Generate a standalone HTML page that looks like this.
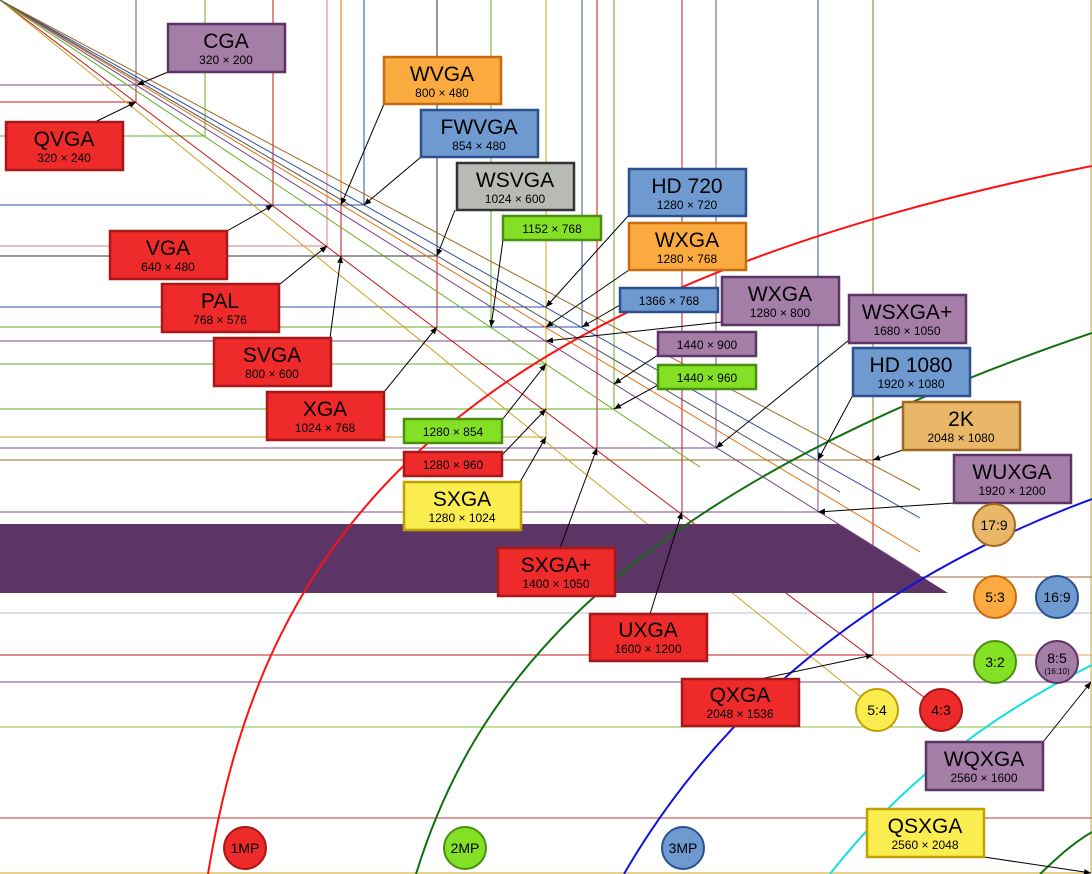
<!DOCTYPE html>
<html><head><meta charset="utf-8"><style>
body{margin:0;background:#fff}
svg{display:block}
text{font-family:"Liberation Sans",sans-serif;text-anchor:middle;fill:#000}
.t{font-size:21px}.s{font-size:12px}.m{font-size:12px}
</style></head><body>
<svg width="1092" height="874" viewBox="0 0 1092 874" xmlns="http://www.w3.org/2000/svg">
<defs><marker id="a" markerWidth="8" markerHeight="8" refX="7" refY="4" orient="auto" markerUnits="userSpaceOnUse"><path d="M0,1 L7,4 L0,7z" fill="#000"/></marker></defs>
<rect width="1092" height="874" fill="#fff"/>
<g fill="none" stroke-width="1">
<path d="M0,577H1092" stroke="#a06030"/>
<path d="M0,613H1092" stroke="#b0c0d8"/>
<path d="M873,655H1092" stroke="#f0a060"/>
<path d="M0,727H1092" stroke="#80c040"/>
<path d="M0,818H1092" stroke="#c03030"/>
<g stroke="#c01818">
<path d="M0,102H136V0M0,205H273V0M0,256H341V0M0,327H437V0M0,409H546V0M0,448H597V0M0,512H682V0M0,655H873V0"/>
<path d="M0,246H327V0" stroke="#d88080"/>
</g>
<g stroke="#7a4a8a"><path d="M0,85H136V0M0,341H546V0M0,448H716V0M0,512H818V0M0,682H1091V0"/></g>
<g stroke="#e07010"><path d="M0,205H341V0M0,327H546V0"/></g>
<g stroke="#2a50a0"><path d="M0,205H364V0M0,307H546V0M0,327H582V0M0,460H818V0"/></g>
<path d="M0,256H437V0" stroke="#333"/>
<g stroke="#60b020"><path d="M0,327H491V0M0,409H614V0M0,364H546V0M0,136H205V0"/></g>
<g stroke="#d0a020"><path d="M0,437H546V0M0,873H1091V0"/></g>
<path d="M0,460H873V0" stroke="#a06820"/>
<line x1="0" y1="0" x2="941" y2="710" stroke="#c01818"/>
<line x1="0" y1="0" x2="877" y2="710" stroke="#d0a020"/>
<line x1="0" y1="0" x2="920" y2="575" stroke="#7a4a8a"/>
<line x1="0" y1="0" x2="920" y2="552" stroke="#e07010"/>
<line x1="0" y1="0" x2="920" y2="518" stroke="#2a50a0"/>
<line x1="0" y1="0" x2="920" y2="490" stroke="#a06820"/>
<line x1="0" y1="0" x2="700" y2="467" stroke="#60b020"/>
<line x1="0" y1="0" x2="840" y2="492" stroke="#555"/>
</g>
<polygon points="0,524 838,524 948,593 0,593" fill="#5c3566"/>
<g fill="none" stroke-width="2">
<path d="M208,874 C260,560 420,300 1092,166" stroke="#ff1010"/>
<path d="M416,874 C470,700 600,500 1092,333" stroke="#107010"/>
<path d="M624,874 C690,760 820,600 1092,499" stroke="#1010e0"/>
<path d="M830,874 C880,810 960,730 1092,665" stroke="#10e0e0"/>
<path d="M1040,874 C1055,860 1070,845 1092,832" stroke="#107010"/>
</g>
<g stroke="#000" stroke-width="1" marker-end="url(#a)">
<line x1="168" y1="72" x2="137" y2="85"/>
<line x1="95" y1="122" x2="136" y2="102"/>
<line x1="227" y1="231" x2="273" y2="205"/>
<line x1="280" y1="284" x2="327" y2="246"/>
<line x1="330" y1="338" x2="341" y2="256"/>
<line x1="384" y1="392" x2="437" y2="327"/>
<line x1="384" y1="104" x2="341" y2="205"/>
<line x1="421" y1="157" x2="364" y2="205"/>
<line x1="455" y1="210" x2="437" y2="256"/>
<line x1="503" y1="240" x2="491" y2="327"/>
<line x1="629" y1="215" x2="546" y2="307"/>
<line x1="629" y1="270" x2="546" y2="327"/>
<line x1="620" y1="305" x2="582" y2="327"/>
<line x1="722" y1="322" x2="546" y2="341"/>
<line x1="658" y1="355" x2="614" y2="384"/>
<line x1="658" y1="385" x2="614" y2="409"/>
<line x1="502" y1="420" x2="546" y2="364"/>
<line x1="502" y1="455" x2="546" y2="409"/>
<line x1="520" y1="482" x2="546" y2="437"/>
<line x1="560" y1="548" x2="597" y2="448"/>
<line x1="849" y1="340" x2="716" y2="448"/>
<line x1="853" y1="395" x2="818" y2="460"/>
<line x1="903" y1="450" x2="873" y2="460"/>
<line x1="954" y1="503" x2="818" y2="512"/>
<line x1="650" y1="614" x2="682" y2="512"/>
<line x1="760" y1="679" x2="873" y2="655"/>
<line x1="1043" y1="742" x2="1091" y2="682"/>
<line x1="984" y1="857" x2="1091" y2="873"/>
</g>
<g stroke-width="2.5">
<g fill="#ee2a2a" stroke="#a81818">
<rect x="6" y="122" width="117" height="48"/><rect x="110" y="231" width="117" height="48"/>
<rect x="162" y="284" width="117" height="48"/><rect x="214" y="338" width="117" height="48"/>
<rect x="267" y="392" width="117" height="48"/><rect x="404" y="452" width="98" height="24"/>
<rect x="498" y="548" width="117" height="48"/><rect x="590" y="614" width="117" height="47"/>
<rect x="682" y="679" width="117" height="47"/>
</g>
<g fill="#a57ea8" stroke="#5c3566">
<rect x="168" y="24" width="117" height="48"/><rect x="722" y="277" width="117" height="48"/>
<rect x="849" y="295" width="117" height="48"/><rect x="658" y="332" width="98" height="24"/>
<rect x="954" y="455" width="117" height="48"/><rect x="926" y="742" width="117" height="48"/>
</g>
<g fill="#fbaa40" stroke="#c86a10"><rect x="384" y="57" width="117" height="47"/><rect x="629" y="223" width="117" height="47"/></g>
<g fill="#6e9ad0" stroke="#2a5090"><rect x="421" y="110" width="117" height="47"/><rect x="629" y="169" width="117" height="47"/><rect x="620" y="288" width="98" height="24"/><rect x="853" y="348" width="117" height="48"/></g>
<rect x="457" y="163" width="117" height="47" fill="#b8bab5" stroke="#333"/>
<g fill="#84e024" stroke="#4a9010"><rect x="503" y="216" width="98" height="24"/><rect x="658" y="365" width="98" height="24"/><rect x="404" y="419" width="98" height="24"/></g>
<g fill="#fbec50" stroke="#c0a000"><rect x="404" y="482" width="117" height="48"/><rect x="867" y="809" width="117" height="48"/></g>
<rect x="903" y="402" width="117" height="48" fill="#e8b868" stroke="#a06820"/>
</g>
<g>
<text class="t" x="226" y="48">CGA</text><text class="s" x="226" y="64">320 × 200</text>
<text class="t" x="64" y="146">QVGA</text><text class="s" x="64" y="162">320 × 240</text>
<text class="t" x="442" y="81">WVGA</text><text class="s" x="442" y="97">800 × 480</text>
<text class="t" x="479" y="134">FWVGA</text><text class="s" x="479" y="150">854 × 480</text>
<text class="t" x="515" y="187">WSVGA</text><text class="s" x="515" y="203">1024 × 600</text>
<text class="m" x="552" y="233">1152 × 768</text>
<text class="t" x="687" y="193">HD 720</text><text class="s" x="687" y="209">1280 × 720</text>
<text class="t" x="687" y="247">WXGA</text><text class="s" x="687" y="263">1280 × 768</text>
<text class="m" x="669" y="305">1366 × 768</text>
<text class="t" x="780" y="301">WXGA</text><text class="s" x="780" y="317">1280 × 800</text>
<text class="t" x="907" y="319">WSXGA+</text><text class="s" x="907" y="335">1680 × 1050</text>
<text class="m" x="707" y="349">1440 × 900</text>
<text class="m" x="707" y="382">1440 × 960</text>
<text class="t" x="911" y="372">HD 1080</text><text class="s" x="911" y="388">1920 × 1080</text>
<text class="t" x="961" y="426">2K</text><text class="s" x="961" y="442">2048 × 1080</text>
<text class="t" x="1012" y="479">WUXGA</text><text class="s" x="1012" y="495">1920 × 1200</text>
<text class="t" x="168" y="255">VGA</text><text class="s" x="168" y="271">640 × 480</text>
<text class="t" x="220" y="308">PAL</text><text class="s" x="220" y="324">768 × 576</text>
<text class="t" x="272" y="362">SVGA</text><text class="s" x="272" y="378">800 × 600</text>
<text class="t" x="325" y="416">XGA</text><text class="s" x="325" y="432">1024 × 768</text>
<text class="m" x="453" y="436">1280 × 854</text>
<text class="m" x="453" y="469">1280 × 960</text>
<text class="t" x="462" y="506">SXGA</text><text class="s" x="462" y="522">1280 × 1024</text>
<text class="t" x="556" y="572">SXGA+</text><text class="s" x="556" y="588">1400 × 1050</text>
<text class="t" x="648" y="637">UXGA</text><text class="s" x="648" y="653">1600 × 1200</text>
<text class="t" x="740" y="702">QXGA</text><text class="s" x="740" y="718">2048 × 1536</text>
<text class="t" x="984" y="766">WQXGA</text><text class="s" x="984" y="782">2560 × 1600</text>
<text class="t" x="925" y="833">QSXGA</text><text class="s" x="925" y="849">2560 × 2048</text>
</g>
<g stroke-width="2">
<circle cx="994" cy="525" r="21" fill="#e8b868" stroke="#a06820"/>
<circle cx="995" cy="597" r="21" fill="#fbaa40" stroke="#c86a10"/>
<circle cx="1057" cy="597" r="21" fill="#6e9ad0" stroke="#2a5090"/>
<circle cx="995" cy="662" r="21" fill="#84e024" stroke="#4a9010"/>
<circle cx="1057" cy="662" r="21" fill="#a57ea8" stroke="#5c3566"/>
<circle cx="877" cy="710" r="21" fill="#fbec50" stroke="#c0a000"/>
<circle cx="941" cy="710" r="21" fill="#ee2a2a" stroke="#a81818"/>
<circle cx="245" cy="848" r="21" fill="#ee2a2a" stroke="#a81818"/>
<circle cx="465" cy="848" r="21" fill="#84e024" stroke="#4a9010"/>
<circle cx="683" cy="848" r="21" fill="#6e9ad0" stroke="#2a5090"/>
</g>
<g font-size="14">
<text x="994" y="530">17:9</text><text x="995" y="602">5:3</text><text x="1057" y="602">16:9</text>
<text x="995" y="667">3:2</text><text x="1057" y="663">8:5</text><text x="1057" y="674" style="font-size:8px">(16:10)</text>
<text x="877" y="715">5:4</text><text x="941" y="715">4:3</text>
<text x="245" y="853">1MP</text><text x="465" y="853">2MP</text><text x="683" y="853">3MP</text>
</g>
</svg>
</body></html>
